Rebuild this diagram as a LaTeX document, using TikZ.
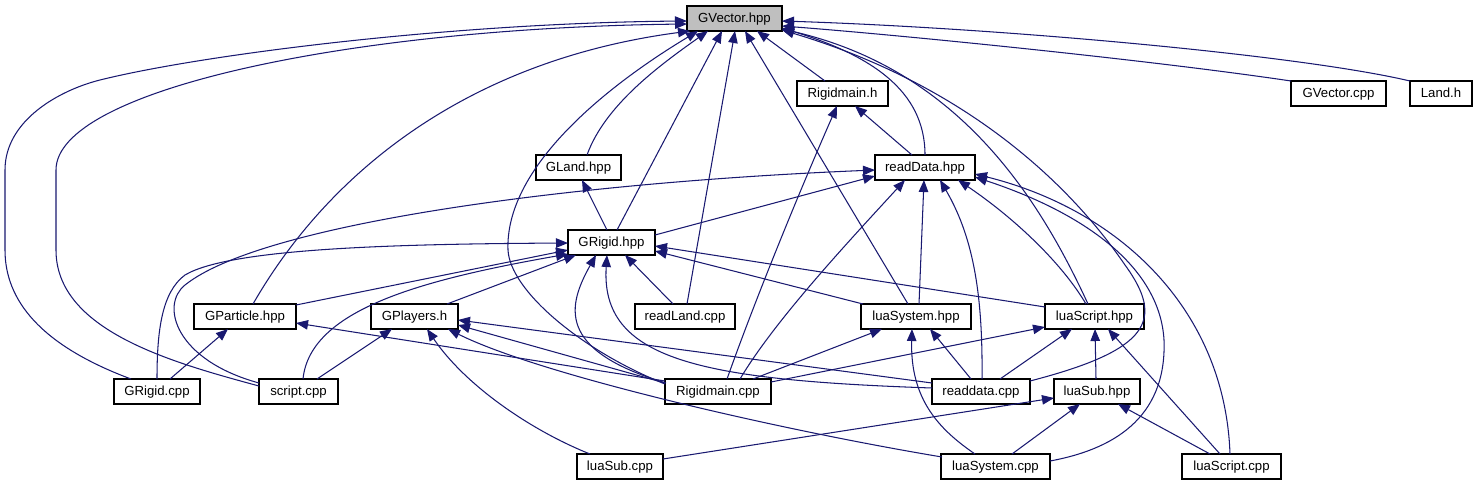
\documentclass[tikz,border=0pt]{standalone}
\usepackage{fontspec}
\setmainfont{Liberation Sans}
\usetikzlibrary{arrows.meta,calc}
\definecolor{mb}{RGB}{25,25,112}
\definecolor{boxgray}{RGB}{191,191,191}
\begin{document}
\begin{tikzpicture}[x=1pt,y=-1pt,
  box/.style={draw=black, line width=1.2pt, rectangle, inner sep=0pt, minimum height=25pt, text height=9.8pt, text depth=2.8pt, font=\fontsize{13.2}{16}\selectfont},
  dep/.style={draw=mb, line width=1.05pt, {Triangle[length=12pt,width=9.5pt]}-}]
\useasboundingbox (0,0) rectangle (1477,485);
% nodes
\node[box, fill=boxgray, minimum width=95pt] (gvec) at (734.5,18.5) {GVector.hpp};
\node[box, minimum width=91pt] (rmh) at (842.5,93.5) {Rigidmain.h};
\node[box, minimum width=95pt] (gvcpp) at (1338.5,93.5) {GVector.cpp};
\node[box, minimum width=62pt] (landh) at (1441,93.5) {Land.h};
\node[box, minimum width=85pt] (gland) at (578.5,167.5) {GLand.hpp};
\node[box, minimum width=100pt] (rdhpp) at (925,167.5) {readData.hpp};
\node[box, minimum width=87pt] (grhpp) at (611.5,242.5) {GRigid.hpp};
\node[box, minimum width=102pt] (gpart) at (245,316.5) {GParticle.hpp};
\node[box, minimum width=87pt] (gplay) at (414.5,316.5) {GPlayers.h};
\node[box, minimum width=100pt] (rland) at (685,316.5) {readLand.cpp};
\node[box, minimum width=110pt] (lsyshpp) at (916,316.5) {luaSystem.hpp};
\node[box, minimum width=99pt] (lschpp) at (1094.5,316.5) {luaScript.hpp};
\node[box, minimum width=86pt] (grcpp) at (157,391.5) {GRigid.cpp};
\node[box, minimum width=79pt] (scpp) at (298.5,391.5) {script.cpp};
\node[box, minimum width=106pt] (rmcpp) at (718,391.5) {Rigidmain.cpp};
\node[box, minimum width=98pt] (rdcpp) at (981,391.5) {readdata.cpp};
\node[box, minimum width=86pt] (lsubhpp) at (1097,391.5) {luaSub.hpp};
\node[box, minimum width=86pt] (lsubcpp) at (620,466.5) {luaSub.cpp};
\node[box, minimum width=109pt] (lsyscpp) at (995.5,466.5) {luaSystem.cpp};
\node[box, minimum width=99pt] (lsccpp) at (1231.5,466.5) {luaScript.cpp};
% edges into GVector.hpp
\draw[dep] ($(gvec)+(-47.5,2.5)$) .. controls (450,23) and (200,55) .. (100,80) .. controls (60,90) and (5,120) .. (5,170) -- (5,250) .. controls (5,300) and (40,345) .. ($(grcpp)+(-26,-12.5)$);
\draw[dep] ($(gvec)+(-47.5,5.5)$) .. controls (350,28) and (56,90) .. (56,170) -- (56,250) .. controls (56,330) and (170,362) .. ($(scpp)+(-39.5,-5.5)$);
\draw[dep] ($(gvec)+(-44.5,12.5)$) .. controls (470,60) and (330,170) .. ($(gpart)+(8,-12.5)$);
\draw[dep] ($(gvec)+(-36.5,12.5)$) .. controls (600,90) and (505,170) .. (508,250) .. controls (510,290) and (580,350) .. ($(rmcpp)+(-53,-7.5)$);
\draw[dep] ($(gvec)+(-26.5,12.5)$) .. controls (660,65) and (605,105) .. ($(gland)+(8.5,-12.5)$);
\draw[dep] ($(gvec)+(-12.5,12.5)$) -- ($(grhpp)+(5.5,-12.5)$);
\draw[dep] ($(gvec)+(0.5,12.5)$) -- ($(rland)+(2,-12.5)$);
\draw[dep] ($(gvec)+(10.5,12.5)$) -- ($(lsyshpp)+(-8,-12.5)$);
\draw[dep] ($(gvec)+(22.5,12.5)$) -- ($(rmh)+(-17.5,-12.5)$);
\draw[dep] ($(gvec)+(47.5,7.5)$) .. controls (900,35) and (1150,60) .. ($(gvcpp)+(-47.5,-12.5)$);
\draw[dep] ($(gvec)+(47.5,2.5)$) .. controls (1000,28) and (1300,55) .. ($(landh)+(-31,-12.5)$);
\draw[dep] ($(gvec)+(47.5,9.5)$) .. controls (870,55) and (925,90) .. ($(rdhpp)+(0,-12.5)$);
\draw[dep] ($(gvec)+(47.5,10.5)$) .. controls (960,70) and (1040,200) .. ($(lschpp)+(-6.5,-12.5)$);
\draw[dep] ($(gvec)+(47.5,11.5)$) .. controls (950,80) and (1060,170) .. (1125,265) .. controls (1165,320) and (1150,350) .. ($(rdcpp)+(49,-10.5)$);
% Rigidmain.h
\draw[dep] ($(rmh)+(12.5,12.5)$) -- ($(rdhpp)+(-13,-12.5)$);
\draw[dep] ($(rmh)+(-5.5,12.5)$) .. controls (800,190) and (755,300) .. ($(rmcpp)+(9,-12.5)$);
% GLand.hpp
\draw[dep] ($(gland)+(3.5,12.5)$) -- ($(grhpp)+(-4.5,-12.5)$);
% readData.hpp
\draw[dep] ($(rdhpp)+(-50,8.5)$) -- ($(grhpp)+(43.5,-7.5)$);
\draw[dep] ($(rdhpp)+(-50,2.5)$) .. controls (560,183) and (260,225) .. (185,285) .. controls (160,305) and (175,360) .. ($(scpp)+(-39.5,-8.5)$);
\draw[dep] ($(rdhpp)+(-20,12.5)$) .. controls (850,240) and (775,320) .. ($(rmcpp)+(22,-12.5)$);
\draw[dep] ($(rdhpp)+(-1,12.5)$) -- ($(lsyshpp)+(3,-12.5)$);
\draw[dep] ($(rdhpp)+(15,12.5)$) .. controls (972,235) and (983,290) .. ($(rdcpp)+(1,-12.5)$);
\draw[dep] ($(rdhpp)+(33,12.5)$) .. controls (1010,215) and (1060,260) .. ($(lschpp)+(-8.5,-12.5)$);
\draw[dep] ($(rdhpp)+(50,9.5)$) .. controls (1090,215) and (1160,270) .. (1164,340) .. controls (1167,420) and (1110,450) .. ($(lsyscpp)+(54.5,-5.5)$);
\draw[dep] ($(rdhpp)+(50,6.5)$) .. controls (1120,210) and (1225,310) .. ($(lsccpp)+(-1.5,-12.5)$);
% GRigid.hpp
\draw[dep] ($(grhpp)+(-43.5,0.5)$) .. controls (400,244) and (230,248) .. (185,275) .. controls (162,292) and (157,330) .. ($(grcpp)+(0,-12.5)$);
\draw[dep] ($(grhpp)+(-43.5,7.5)$) -- ($(gpart)+(51,-11.5)$);
\draw[dep] ($(grhpp)+(-43.5,11.5)$) .. controls (420,280) and (310,310) .. ($(scpp)+(4.5,-12.5)$);
\draw[dep] ($(grhpp)+(-35.5,12.5)$) -- ($(gplay)+(32.5,-12.5)$);
\draw[dep] ($(grhpp)+(-15.5,12.5)$) .. controls (568,305) and (555,350) .. ($(rmcpp)+(-52,-8.5)$);
\draw[dep] ($(grhpp)+(-4.5,12.5)$) .. controls (600,360) and (700,380) .. ($(rdcpp)+(-49,-3.5)$);
\draw[dep] ($(grhpp)+(13.5,12.5)$) -- ($(rland)+(-12,-12.5)$);
\draw[dep] ($(grhpp)+(43.5,8.5)$) -- ($(lsyshpp)+(-53,-12.5)$);
\draw[dep] ($(grhpp)+(43.5,3.5)$) -- ($(lschpp)+(-49.5,-9.5)$);
% GParticle.hpp
\draw[dep] ($(gpart)+(-17,12.5)$) -- ($(grcpp)+(13,-12.5)$);
\draw[dep] ($(gpart)+(51,6.5)$) -- ($(rmcpp)+(-53,-10.5)$);
% GPlayers.h
\draw[dep] ($(gplay)+(-22.5,12.5)$) -- ($(scpp)+(18.5,-12.5)$);
\draw[dep] ($(gplay)+(12.5,12.5)$) .. controls (465,385) and (530,430) .. ($(lsubcpp)+(-30,-12.5)$);
\draw[dep] ($(gplay)+(33.5,12.5)$) .. controls (540,375) and (780,430) .. ($(lsyscpp)+(-53.5,-9.5)$);
\draw[dep] ($(gplay)+(43.5,8.5)$) -- ($(rmcpp)+(-53,-8.5)$);
\draw[dep] ($(gplay)+(43.5,3.5)$) -- ($(rdcpp)+(-49,-8.5)$);
% luaSystem.hpp
\draw[dep] ($(lsyshpp)+(-34,12.5)$) -- ($(rmcpp)+(35,-12.5)$);
\draw[dep] ($(lsyshpp)+(14,12.5)$) -- ($(rdcpp)+(-10,-12.5)$);
\draw[dep] ($(lsyshpp)+(-4,12.5)$) .. controls (910,400) and (940,430) .. ($(lsyscpp)+(-20.5,-12.5)$);
% luaScript.hpp
\draw[dep] ($(lschpp)+(-49.5,10.5)$) -- ($(rmcpp)+(53,-9.5)$);
\draw[dep] ($(lschpp)+(-22.5,12.5)$) -- ($(rdcpp)+(19,-12.5)$);
\draw[dep] ($(lschpp)+(0.5,12.5)$) -- ($(lsubhpp)+(-1,-12.5)$);
\draw[dep] ($(lschpp)+(13.5,12.5)$) -- ($(lsccpp)+(-11.5,-12.5)$);
% luaSub.hpp
\draw[dep] ($(lsubhpp)+(-43,6.5)$) -- ($(lsubcpp)+(43,-7.5)$);
\draw[dep] ($(lsubhpp)+(-17,12.5)$) -- ($(lsyscpp)+(16.5,-12.5)$);
\draw[dep] ($(lsubhpp)+(21,12.5)$) -- ($(lsccpp)+(-21.5,-12.5)$);
\end{tikzpicture}
\end{document}
